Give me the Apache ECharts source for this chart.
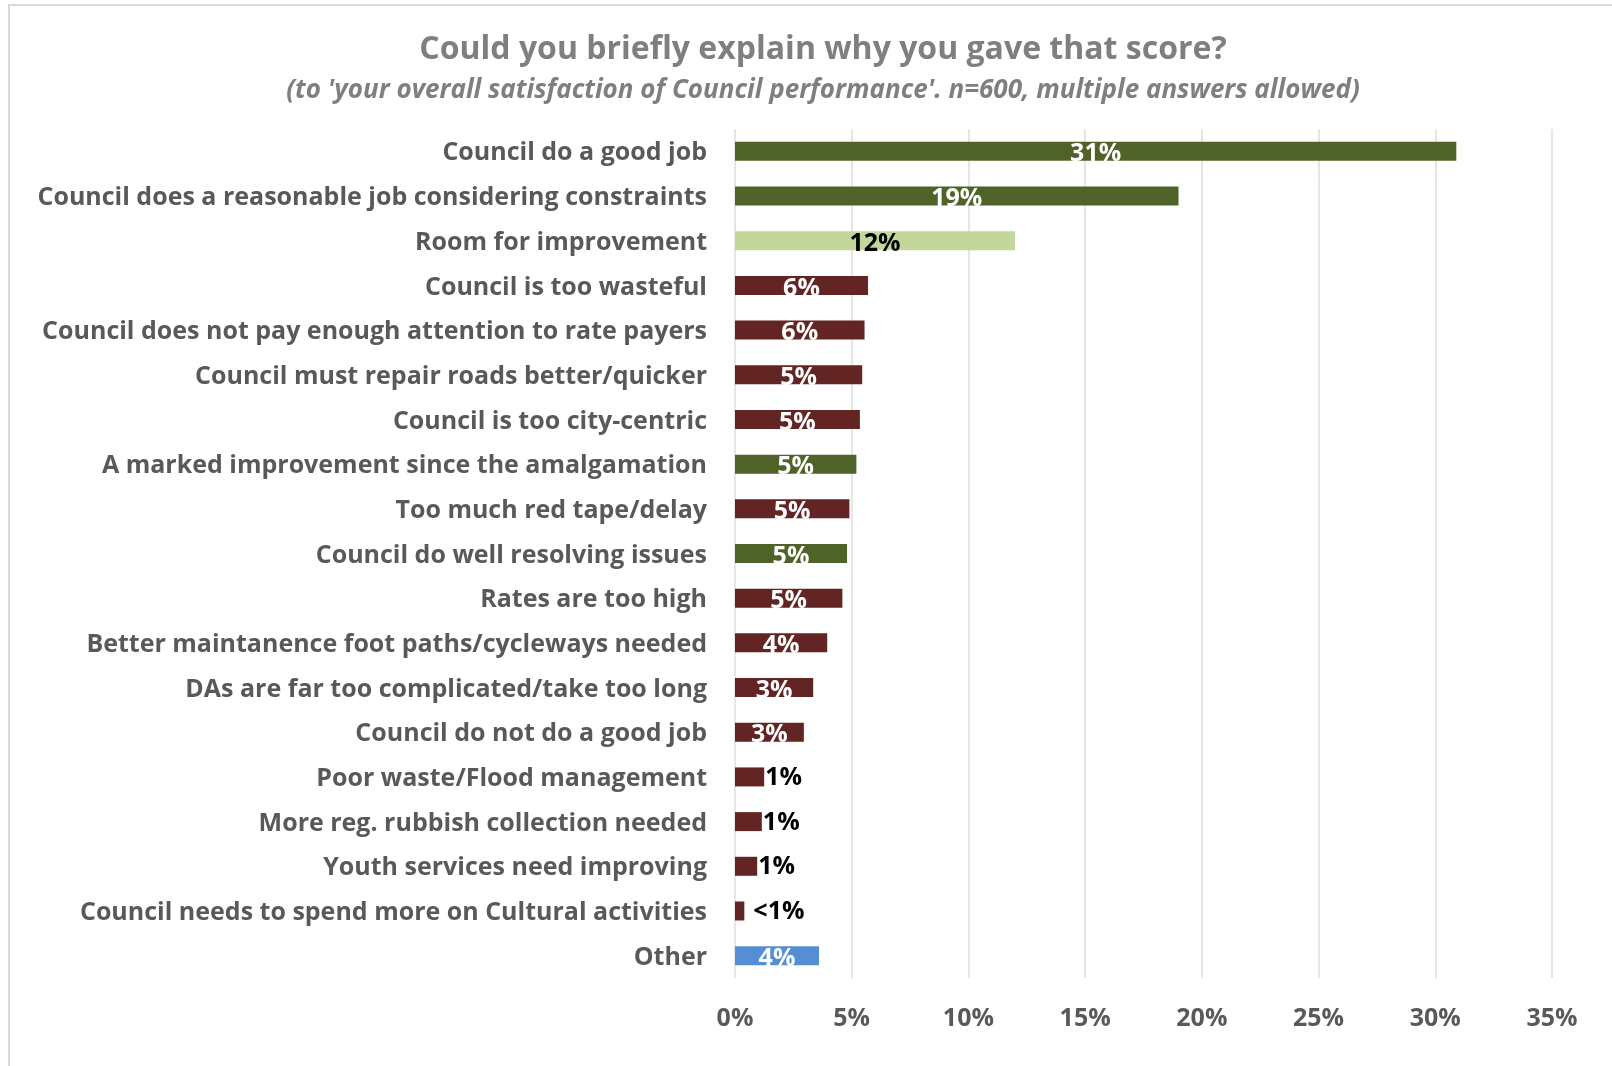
<!DOCTYPE html>
<html>
<head>
<meta charset="utf-8">
<script src="https://cdn.jsdelivr.net/npm/echarts@6/dist/echarts.min.js"></script>
<style>
  html, body { margin: 0; padding: 0; background: #ffffff; }
  #chart { width: 1612px; height: 1066px; }
</style>
</head>
<body>
<div id="chart"></div>
<script>
// Reasons given for the overall satisfaction score (% of respondents)
const categories = [
  'Council do a good job',
  'Council does a reasonable job considering constraints',
  'Room for improvement',
  'Council is too wasteful',
  'Council does not pay enough attention to rate payers',
  'Council must repair roads better/quicker',
  'Council is too city-centric',
  'A marked improvement since the amalgamation',
  'Too much red tape/delay',
  'Council do well resolving issues',
  'Rates are too high',
  'Better maintanence foot paths/cycleways needed',
  'DAs are far too complicated/take too long',
  'Council do not do a good job',
  'Poor waste/Flood management',
  'More reg. rubbish collection needed',
  'Youth services need improving',
  'Council needs to spend more on Cultural activities',
  'Other'
];
const values = [30.9, 19.0, 12.0, 5.7, 5.55, 5.45, 5.35, 5.2, 4.9, 4.8, 4.6, 3.95, 3.35, 2.95, 1.25, 1.15, 0.95, 0.4, 3.6];
// sentiment group of each answer
const groups = ['pos', 'pos', 'mid', 'neg', 'neg', 'neg', 'neg', 'pos', 'neg', 'pos', 'neg', 'neg', 'neg', 'neg', 'neg', 'neg', 'neg', 'neg', 'other'];
const xTicks = [0, 5, 10, 15, 20, 25, 30, 35];

const groupColors = { pos: '#4f6228', mid: '#c3d69b', neg: '#632523', other: '#558ed5' };
const FONT = '"Open Sans"';

function pctText(v) {
  return v < 0.5 ? '<1%' : Math.round(v) + '%';
}

const barData = values.map((v, i) => {
  const g = groups[i];
  const small = v < 2;
  return {
    value: v,
    itemStyle: { color: groupColors[g] },
    label: small
      ? { position: 'right', color: '#000000', distance: v < 0.5 ? 9 : 1, offset: [0, 1] }
      : { position: 'inside', color: g === 'mid' ? '#000000' : '#ffffff', offset: [0, 3] }
  };
});

const chart = echarts.init(document.getElementById('chart'), null, { renderer: 'canvas' });
chart.setOption({
  backgroundColor: '#ffffff',
  animation: false,
  title: [
    {
      text: 'Could you briefly explain why you gave that score?',
      left: 818, top: 29, textAlign: 'center',
      textStyle: { fontFamily: FONT, fontWeight: 'bold', fontSize: 32, color: '#7f7f7f' }
    },
    {
      text: "(to 'your overall satisfaction of Council performance'. n=600, multiple answers allowed)",
      left: 818, top: 73, textAlign: 'center',
      textStyle: { fontFamily: FONT, fontWeight: 'bold', fontStyle: 'italic', fontSize: 26, color: '#7f7f7f' }
    }
  ],
  graphic: [
    {
      type: 'rect', silent: true,
      shape: { x: 9, y: 5, width: 1700, height: 1200 },
      style: { fill: 'none', stroke: '#d9d9d9', lineWidth: 2 }
    }
  ],
  grid: { left: 735, right: 60, top: 129, bottom: 88, containLabel: false },
  xAxis: {
    type: 'value', min: 0, max: 35, interval: 5,
    axisLine: { show: false }, axisTick: { show: false },
    splitLine: { lineStyle: { color: '#dedede', width: 1.5 } },
    axisLabel: {
      margin: 28,
      fontFamily: FONT, fontWeight: 'bold', fontSize: 25, color: '#595959',
      formatter: v => (xTicks.indexOf(v) >= 0 ? v + '%' : '')
    }
  },
  yAxis: {
    type: 'category', data: categories, inverse: true,
    axisLine: { show: false }, axisTick: { show: false },
    axisLabel: {
      margin: 28,
      formatter: v => '{c|' + v + '}',
      rich: {
        c: {
          padding: [4, 0, 0, 0],
          fontFamily: FONT, fontWeight: 'bold', fontSize: 25, color: '#595959'
        }
      }
    }
  },
  series: [{
    type: 'bar',
    data: barData,
    barWidth: 19,
    label: {
      show: true,
      fontFamily: FONT, fontWeight: 'bold', fontSize: 25,
      formatter: p => pctText(p.value)
    }
  }]
});
</script>
</body>
</html>
